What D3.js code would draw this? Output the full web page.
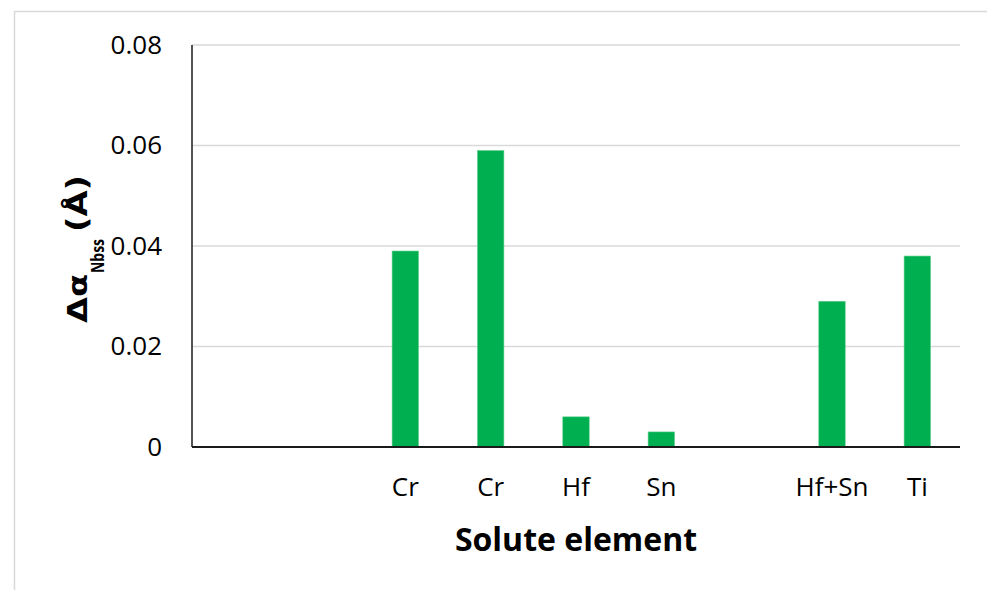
<!DOCTYPE html>
<html>
<head>
<meta charset="utf-8">
<script src="https://cdn.jsdelivr.net/npm/d3@7"></script>
<style>
  html, body { margin: 0; padding: 0; background: #ffffff; }
  svg { display: block; font-family: "Open Sans", "Noto Sans", sans-serif; }
</style>
</head>
<body>
<svg id="chart" width="987" height="590"></svg>
<script>
// Category slots along the x axis (blank slots are left empty)
const categories = ["", "", "Cr", "Cr", "Hf", "Sn", "", "Hf+Sn", "Ti"];
// Lattice parameter change of Nb solid solution per solute, in Å
const values = [null, null, 0.039, 0.059, 0.006, 0.003, null, 0.029, 0.038];
// Y-axis tick values
const yTicks = [0, 0.02, 0.04, 0.06, 0.08];

const svg = d3.select("#chart");
const plotLeft = 192, plotRight = 960, plotTop = 45, plotBottom = 447;

// Outer chart frame
svg.append("rect")
  .attr("x", 14.5).attr("y", 11.5)
  .attr("width", 1000).attr("height", 620)
  .attr("fill", "none").attr("stroke", "#d9d9d9").attr("stroke-width", 1.5);

const x = d3.scaleBand()
  .domain(d3.range(categories.length))
  .range([plotLeft, plotRight])
  .paddingInner(0.69)
  .paddingOuter(0.345);

const y = d3.scaleLinear().domain([0, 0.08]).range([plotBottom, plotTop]);

// Horizontal gridlines
svg.append("g")
  .selectAll("line")
  .data(yTicks.filter(d => d > 0))
  .join("line")
  .attr("x1", plotLeft).attr("x2", plotRight)
  .attr("y1", d => y(d)).attr("y2", d => y(d))
  .attr("stroke", "#d9d9d9").attr("stroke-width", 1.5);

// Y axis labels
const yAxis = d3.axisLeft(y)
  .tickValues(yTicks)
  .tickSize(0)
  .tickPadding(30)
  .tickFormat(d => d === 0 ? "0" : d.toFixed(2));
const gy = svg.append("g").attr("transform", `translate(${plotLeft},0)`).call(yAxis);
gy.select(".domain").remove();
gy.selectAll("text")
  .attr("font-family", "'Open Sans', sans-serif")
  .attr("font-size", 26)
  .attr("fill", "#000");

// Bars
svg.append("g")
  .selectAll("rect")
  .data(values.map((v, i) => ({ i, v })).filter(d => d.v !== null))
  .join("rect")
  .attr("x", d => x(d.i))
  .attr("width", x.bandwidth())
  .attr("y", d => y(d.v))
  .attr("height", d => y(0) - y(d.v))
  .attr("fill", "#00b050")
  .attr("stroke", "#5fd08c")
  .attr("stroke-width", 0.6);

// X axis labels
const xAxis = d3.axisBottom(x)
  .tickSize(0)
  .tickPadding(31)
  .tickFormat(i => categories[i]);
const gx = svg.append("g").attr("transform", `translate(0,${plotBottom})`).call(xAxis);
gx.select(".domain").remove();
gx.selectAll("text")
  .attr("font-family", "'Open Sans', sans-serif")
  .attr("font-size", 26)
  .attr("fill", "#000");

// Axis lines
svg.append("line")
  .attr("x1", plotLeft).attr("x2", plotLeft)
  .attr("y1", plotTop).attr("y2", plotBottom)
  .attr("stroke", "#1a1a1a").attr("stroke-width", 1.5);
svg.append("line")
  .attr("x1", plotLeft).attr("x2", plotRight)
  .attr("y1", plotBottom).attr("y2", plotBottom)
  .attr("stroke", "#1a1a1a").attr("stroke-width", 2);

// X axis title
svg.append("text")
  .attr("x", (plotLeft + plotRight) / 2)
  .attr("y", 551)
  .attr("text-anchor", "middle")
  .attr("font-family", "'Open Sans', sans-serif")
  .attr("font-weight", "bold")
  .attr("font-size", 32)
  .attr("fill", "#000")
  .text("Solute element");

// Y axis title, written bottom-to-top: Δα with subscript Nbss, then the unit
const yTitle = svg.append("g")
  .attr("transform", "translate(87,323) rotate(-90)")
  .attr("font-weight", "bold")
  .attr("fill", "#000");
const titleParts = [
  { text: "Δα", x: 0, y: 0, size: 27, font: "'DejaVu Sans', sans-serif", len: 49 },
  { text: "Nbss", x: 50, y: 17, size: 18, font: "'Open Sans', sans-serif", len: 34 },
  { text: "(Å)", x: 91, y: 0, size: 28, font: "'DejaVu Sans', sans-serif", len: 57 }
];
yTitle.selectAll("text")
  .data(titleParts)
  .join("text")
  .attr("x", d => d.x)
  .attr("y", d => d.y)
  .attr("font-family", d => d.font)
  .attr("font-size", d => d.size)
  .attr("textLength", d => d.len)
  .attr("lengthAdjust", "spacingAndGlyphs")
  .text(d => d.text);
</script>
</body>
</html>
